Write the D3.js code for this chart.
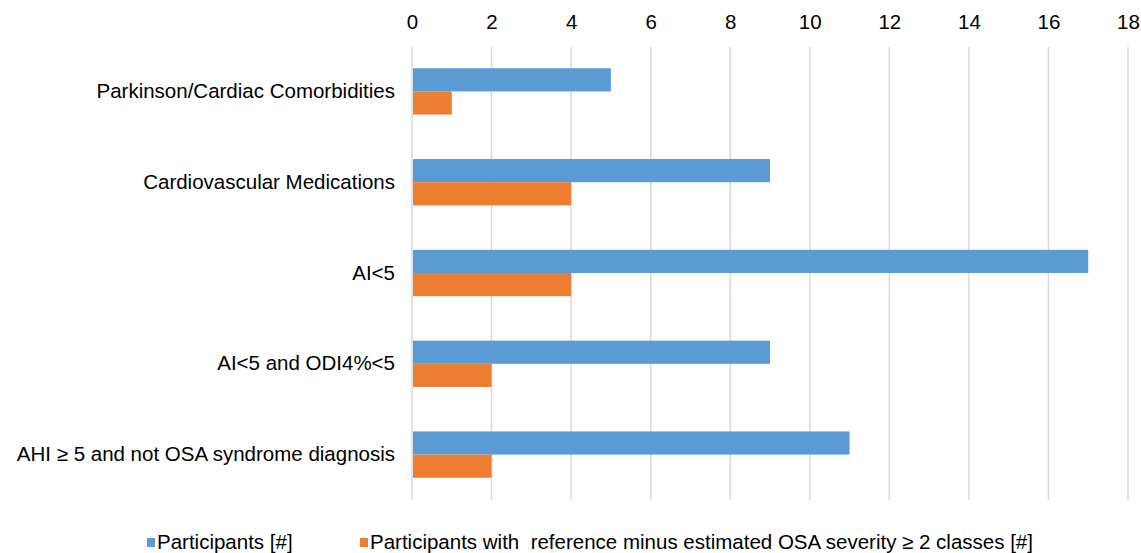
<!DOCTYPE html>
<html>
<head>
<meta charset="utf-8">
<script src="https://cdn.jsdelivr.net/npm/d3@7"></script>
<style>
  html, body { margin: 0; padding: 0; background: #fff; }
  svg { display: block; font-family: "Liberation Sans", Arial, sans-serif; }
</style>
</head>
<body>
<svg id="chart" width="1141" height="553"></svg>
<script>
// Categories, top to bottom
const categories = [
  "Parkinson/Cardiac Comorbidities",
  "Cardiovascular Medications",
  "AI<5",
  "AI<5 and ODI4%<5",
  "AHI \u2265 5 and not OSA syndrome diagnosis"
];
const participants = [5, 9, 17, 9, 11];
const severityMismatch = [1, 4, 4, 2, 2];
const seriesNames = [
  "Participants [#]",
  "Participants with  reference minus estimated OSA severity \u2265 2 classes [#]"
];
const xTicks = [0, 2, 4, 6, 8, 10, 12, 14, 16, 18];

const colors = ["#5B9BD5", "#ED7D31"];
const series = [participants, severityMismatch];
const FONT = 20.5;

const svg = d3.select("#chart");
const W = 1141, H = 553;
const plot = { left: 412, right: 1128, top: 46, bottom: 500 };

const x = d3.scaleLinear().domain([0, 18]).range([plot.left, plot.right]);
const y = d3.scaleBand().domain(categories).range([plot.top, plot.bottom])
  .paddingInner(0.49).paddingOuter(0.245);
const ySub = d3.scaleBand().domain([0, 1]).range([0, y.bandwidth()]);

// vertical gridlines
svg.append("g").selectAll("line").data(xTicks).join("line")
  .attr("x1", d => x(d)).attr("x2", d => x(d))
  .attr("y1", plot.top + 1).attr("y2", plot.bottom)
  .attr("stroke", "#D9D9D9").attr("stroke-width", 1.5);

// value labels along the top
const axis = d3.axisTop(x).tickValues(xTicks).tickSize(0).tickPadding(0);
const gAxis = svg.append("g").attr("transform", "translate(0,29)").call(axis);
gAxis.select(".domain").remove();
gAxis.selectAll("text").attr("font-size", FONT).attr("fill", "#000")
  .attr("font-family", "Liberation Sans, Arial, sans-serif").attr("dy", 0);

// bars
const groups = svg.append("g").selectAll("g").data(categories).join("g")
  .attr("transform", d => `translate(0,${y(d)})`);
groups.selectAll("rect").data((d, i) => series.map((s, k) => ({ k, v: s[i] }))).join("rect")
  .attr("x", x(0) + 1)
  .attr("y", d => ySub(d.k))
  .attr("width", d => x(d.v) - x(0) - 1)
  .attr("height", ySub.bandwidth())
  .attr("fill", d => colors[d.k]);

// category labels
const yAxis = d3.axisLeft(y).tickSize(0).tickPadding(17);
const gY = svg.append("g").attr("transform", `translate(${x(0)},0)`).call(yAxis);
gY.select(".domain").remove();
gY.selectAll("text").attr("font-size", FONT).attr("fill", "#000")
  .attr("font-family", "Liberation Sans, Arial, sans-serif");

// legend
const legend = svg.append("g").attr("font-size", FONT);
const legendX = [147, 360];
seriesNames.forEach((name, k) => {
  legend.append("rect").attr("x", legendX[k]).attr("y", 538).attr("width", 8).attr("height", 9).attr("fill", colors[k]);
  legend.append("text").attr("x", legendX[k] + 10).attr("y", 549).text(name).attr("fill", "#000")
    .style("white-space", "pre");
});
</script>
</body>
</html>
